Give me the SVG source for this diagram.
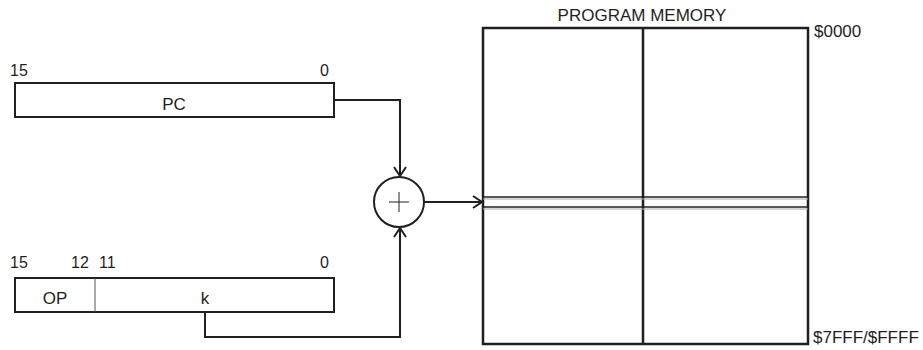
<svg xmlns="http://www.w3.org/2000/svg" width="923" height="350" viewBox="0 0 923 350">
<style>
.t{font-family:"Liberation Sans",Arial,sans-serif;fill:#231f20}
.n{font-size:16px}
.l{font-size:17px}
.m{font-size:17px}
.box{fill:#fff;stroke:#231f20;stroke-width:2}
.c{fill:none;stroke:#231f20;stroke-width:2}
</style>
<defs>
<marker id="ah" markerUnits="userSpaceOnUse" markerWidth="14" markerHeight="16" refX="10" refY="7" orient="auto" viewBox="0 0 14 16">
<path d="M1,1 L10,7 L1,13" fill="none" stroke="#231f20" stroke-width="2"/>
</marker>
</defs>
<g id="pc">
<rect class="box" x="15" y="83" width="319" height="34"/>
<text class="t l" x="174" y="110" text-anchor="middle">PC</text>
<text class="t n" x="10" y="76">15</text>
<text class="t n" x="320" y="76">0</text>
</g>
<g id="instr">
<rect class="box" x="15" y="278" width="319" height="34"/>
<line x1="95" y1="278" x2="95" y2="312" stroke="#555" stroke-width="1"/>
<text class="t l" x="55" y="304" text-anchor="middle">OP</text>
<text class="t l" x="205" y="304" text-anchor="middle">k</text>
<text class="t n" x="10" y="268">15</text>
<text class="t n" x="71" y="268">12</text>
<text class="t n" x="99" y="268">11</text>
<text class="t n" x="320" y="268">0</text>
</g>
<g id="adder">
<circle cx="399" cy="202" r="25" fill="#fff" stroke="#231f20" stroke-width="2"/>
<line x1="389" y1="202" x2="409" y2="202" stroke="#231f20" stroke-width="1"/>
<line x1="399" y1="192" x2="399" y2="212" stroke="#231f20" stroke-width="1"/>
</g>
<g id="memory">
<rect x="483" y="28" width="325" height="316" fill="#fff" stroke="#231f20" stroke-width="2.5"/>
<line x1="643" y1="28" x2="643" y2="344" stroke="#231f20" stroke-width="2.5"/>
<line x1="483" y1="197" x2="808" y2="197" stroke="#231f20" stroke-width="1.5"/>
<line x1="483" y1="199" x2="808" y2="199" stroke="#aaa" stroke-width="1"/>
<line x1="483" y1="207" x2="808" y2="207" stroke="#231f20" stroke-width="1.5"/>
<line x1="483" y1="209" x2="808" y2="209" stroke="#aaa" stroke-width="1"/>
<text class="t m" x="642" y="21" text-anchor="middle">PROGRAM MEMORY</text>
<text class="t m" x="814" y="37">$0000</text>
<text class="t m" x="813" y="343">$7FFF/$FFFF</text>
</g>
<g id="connectors">
<polyline class="c" points="334,100 400,100 400,176" marker-end="url(#ah)"/>
<polyline class="c" points="205,312 205,337 400,337 400,228" marker-end="url(#ah)"/>
<line class="c" x1="424" y1="202" x2="482" y2="202" marker-end="url(#ah)"/>
</g>
</svg>
